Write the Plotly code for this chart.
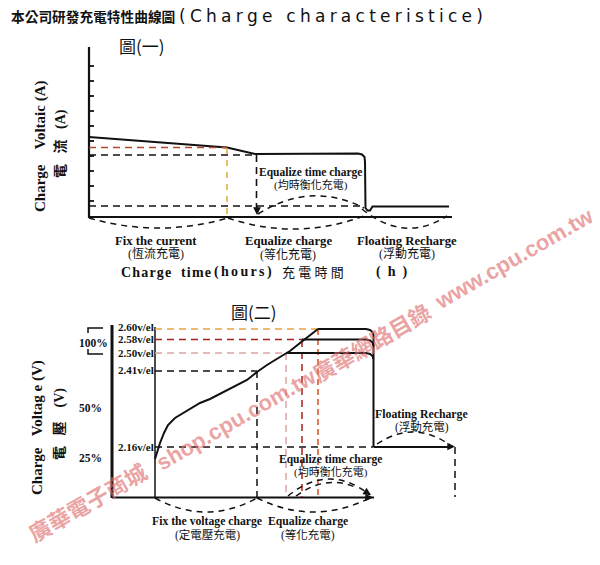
import plotly.graph_objects as go

NB = "\u00a0"
SP_Q = "\u2005"   # four-per-em space
SP_S = "\u2006"   # six-per-em space
SP_H = "\u200a"   # hair space


def spaced(s, sp):
    return sp.join(s)

# ---------------- text data ----------------
title_zh = "本公司研發充電特性曲線圖"
title_en = "(Charge characteristice)"
fig1_title = "圖(一)"
fig2_title = "圖(二)"

c1_phase_en = ["Fix the current", "Equalize charge", "Floating Recharge"]
c1_phase_zh = ["(恆流充電)", "(等化充電)", "(浮動充電)"]
c1_phase_x = [156, 288, 407]
eq_time_en = "Equalize time charge"
eq_time_zh = "(均時衡化充電)"
xlabel_parts = ["Charge", "time", "(hours)", "充 電 時 間", "( h )"]
xlabel_x = [146, 196, 242.5, 313, 391]

c2_phase_en = ["Fix the voltage charge", "Equalize charge"]
c2_phase_zh = ["(定電壓充電)", "(等化充電)"]
c2_phase_x = [207, 308]
float_en = "Floating Recharge"
float_zh = "(浮動充電)"

volt_labels = ["2.60v/el", "2.58v/el", "2.50v/el", "2.41v/el", "2.16v/el"]
volt_label_y = [327, 338.5, 353, 370, 447]
volt_level_y = [329, 339.5, 353, 371, 447]
volt_level_end_x = [318, 302, 286, 257, 373]
pct_labels = ["100%", "50%", "25%"]
pct_y = [343, 408, 458]

watermark = ["廣華電子商城", "shop.cpu.com.tw", "廣華網路目錄", "www.cpu.com.tw"]
watermark_x = [88, 236, 372, 514]
watermark_y = [503, 419, 343, 258]

# ---------------- chart 1 geometry (diagram units) ----------------
c1_axis_x = [89, 89, 452]
c1_axis_y = [47, 217, 217]
c1_tick_y = [66, 81, 96, 111, 126, 141, 156, 171, 186, 201]
c1_curr_x = [89, 227, 255, 358, 362, 364.5, 365, 365.5, 367.5, 370, 372.5, 449]
c1_curr_y = [137, 147.5, 154, 153.5, 154.5, 157, 162, 208, 210.5, 210.5, 206.5, 206.5]

# ---------------- chart 2 geometry ----------------
c2_volt_x = [155, 157, 160, 164, 168, 175, 183, 192, 200, 210, 220, 233, 247, 257, 267, 280, 290, 300, 310, 318]
c2_volt_y = [459, 452, 443, 433, 425, 418, 413, 408, 403, 399, 394, 387, 380, 372, 365, 357, 351, 343, 335, 329]
v260_x = [318, 366, 370, 372.5, 373.5, 373.5]
v260_y = [329, 329, 330, 332, 335, 447]
v258_x = [302, 366, 370, 372.5, 373.5]
v258_y = [339.5, 339.5, 340.5, 342.5, 346]
v250_x = [286, 366, 370, 372.5, 373.5]
v250_y = [353, 353, 354, 356, 359]

level_colors = ["#e8a23a", "#a8201a", "#dba5a5", "#111111", "#111111"]

fig = go.Figure()


def line(xs, ys, color="#111111", width=2, dash=None):
    fig.add_trace(go.Scatter(x=xs, y=ys, mode="lines", hoverinfo="skip",
                             line=dict(color=color, width=width, dash=dash or "solid", shape="linear")))


DASH = "7px,5px"

# ---- chart 1 ----
line(c1_axis_x, c1_axis_y, width=2.2)
for ty in c1_tick_y:
    line([89, 94], [ty, ty], width=1.8)
line(c1_curr_x, c1_curr_y, width=2)
line([89, 227], [147.5, 147.5], color="#b04a2a", width=1.4, dash=DASH)
line([89, 255], [155, 155], width=1.4, dash=DASH)
line([227, 227], [148, 217], color="#e0b040", width=1.6, dash="6px,6px")
line([256.5, 256.5], [155, 210], width=1.6, dash=DASH)
line([89, 365], [206, 206], width=1.4, dash=DASH)

# ---- chart 2 ----
line([112, 112], [325, 498], width=3)
line([112, 374], [497.5, 497.5], width=2)
line([155, 155], [327, 497.5], width=1.5)
for ly, lx, col in zip(volt_level_y, volt_level_end_x, level_colors):
    line([155, lx], [ly, ly], color=col, width=1.4, dash=DASH)
line([257, 257], [371, 497], width=1.5, dash=DASH)
line([286, 286], [353, 497], color="#dba5a5", width=1.5, dash=DASH)
line([302, 302], [340, 497], color="#a8201a", width=1.5, dash=DASH)
line([318, 318], [329, 497], color="#e05a30", width=1.6, dash="6px,4px")
line([455, 455], [447, 497], width=1.5, dash=DASH)
line(c2_volt_x, c2_volt_y, width=2)
line(v260_x, v260_y, width=2)
line(v258_x, v258_y, width=2)
line(v250_x, v250_y, width=2)
line([373.5, 450], [447, 447], width=1.8)
# 100% bracket
line([103, 88, 88], [328, 328, 333], width=1.5)
line([88, 88, 103], [349, 354, 354], width=1.5)

# ---- dashed arcs ----
arcs = [
    ((89, 218), (228, 218), 228),
    ((228, 218), (364, 216), 229),
    ((362, 209), (447, 216), 228),
    ((258, 214), (364, 208), 196),
    ((155, 498), (257, 498), 512),
    ((257, 498), (370, 498), 512),
    ((288, 496), (370, 495), 479),
    ((296, 496), (355, 487), 483),
    ((377, 444), (450, 445), 432),
]
shapes = []
for (x0, y0), (x1, y1), yp in arcs:
    cx = (x0 + x1) / 2
    cy = 2 * yp - 0.5 * (y0 + y1)
    shapes.append(dict(type="path", xref="x", yref="y",
                       path=f"M {x0},{y0} Q {cx},{cy} {x1},{y1}",
                       line=dict(color="#111111", width=1.5, dash="6px,5px")))

annotations = []


def arrow(x, y, ax, ay):
    annotations.append(dict(x=x, y=y, ax=ax, ay=ay, xref="x", yref="y", axref="x", ayref="y",
                            text="", showarrow=True, arrowhead=2, arrowsize=1.1,
                            arrowwidth=1.4, arrowcolor="#111111"))


arrow(257, 215, 257, 205)
arrow(373, 497.5, 364, 497.5)
arrow(371, 495, 363, 490)
arrow(455, 446.5, 446, 446.5)

SERIF = "Liberation Serif, Noto Sans CJK TC, serif"
CJK = "Noto Sans CJK TC, sans-serif"


def txt(x, y, s, size, family=SERIF, bold=True, anchor="center", angle=0, color="#111111"):
    annotations.append(dict(x=x, y=y, xref="x", yref="y", text=f"<b>{s}</b>" if bold else s,
                            showarrow=False, xanchor=anchor, yanchor="middle", textangle=angle,
                            font=dict(family=family, size=size, color=color)))


# titles
txt(177, 16, title_zh, 13.7, family=CJK, anchor="right")
txt(177, 16, spaced(title_en, SP_Q), 17, family="DejaVu Sans, sans-serif", bold=False, anchor="left")
txt(142, 45, fig1_title, 17, family=CJK, bold=False)
txt(254, 311, fig2_title, 17, family=CJK, bold=False)

# chart 1 labels
txt(40, 146, "Charge" + NB * 4 + "Voltaic" + NB + "(A)", 15, angle=-90)
txt(60, 144, "電" + NB * 3 + "流" + NB * 3 + "(A)", 14, angle=-90)
for en, zh, x in zip(c1_phase_en, c1_phase_zh, c1_phase_x):
    txt(x, 241, en, 12.7)
    txt(x, 254, zh, 12, bold=False)
txt(310.5, 172, eq_time_en, 11.5)
txt(310.5, 185, eq_time_zh, 11, bold=False)
xl_text = [spaced(xlabel_parts[0], SP_H), spaced(xlabel_parts[1], SP_H),
           spaced(xlabel_parts[2], SP_S), xlabel_parts[3].replace(" ", NB),
           xlabel_parts[4].replace(" ", NB * 2)]
for i, (s, x) in enumerate(zip(xl_text, xlabel_x)):
    if i == 3:
        txt(x, 272, s, 13, bold=False)
    else:
        txt(x, 272, s, 14)

# chart 2 labels
txt(37, 428, "Charge" + NB * 3 + "Voltag" + NB + "e" + NB + "(V)", 15, angle=-90)
txt(60, 424, "電" + NB * 3 + "壓" + NB * 4 + "(V)", 14, angle=-90)
for s, y in zip(volt_labels, volt_label_y):
    txt(116, y, s, 11, anchor="left")
for s, y in zip(pct_labels, pct_y):
    txt(77, y, s, 11.5, anchor="left")
for en, zh, x in zip(c2_phase_en, c2_phase_zh, c2_phase_x):
    txt(x, 521.5, en, 11.7)
    txt(x, 535, zh, 11.5, bold=False)
txt(330.5, 459, eq_time_en, 11.5)
txt(330.5, 472, eq_time_zh, 11, bold=False)
txt(421.5, 414, float_en, 11.8)
txt(421.5, 427, float_zh, 11.5, bold=False)

# watermark
for s, x, y in zip(watermark, watermark_x, watermark_y):
    txt(x, y, s, 22, family="Liberation Sans, Noto Sans CJK TC, sans-serif", angle=-30,
        color="rgba(222,110,110,0.65)")

fig.update_layout(
    width=600, height=565, margin=dict(l=0, r=0, t=0, b=0),
    paper_bgcolor="white", plot_bgcolor="white", showlegend=False,
    xaxis=dict(range=[0, 600], visible=False, fixedrange=True),
    yaxis=dict(range=[565, 0], visible=False, fixedrange=True),
    shapes=shapes, annotations=annotations,
)

fig.write_html("out.html", config={"displayModeBar": False},
               post_script="document.body.style.margin='0';document.body.style.overflow='hidden';")
